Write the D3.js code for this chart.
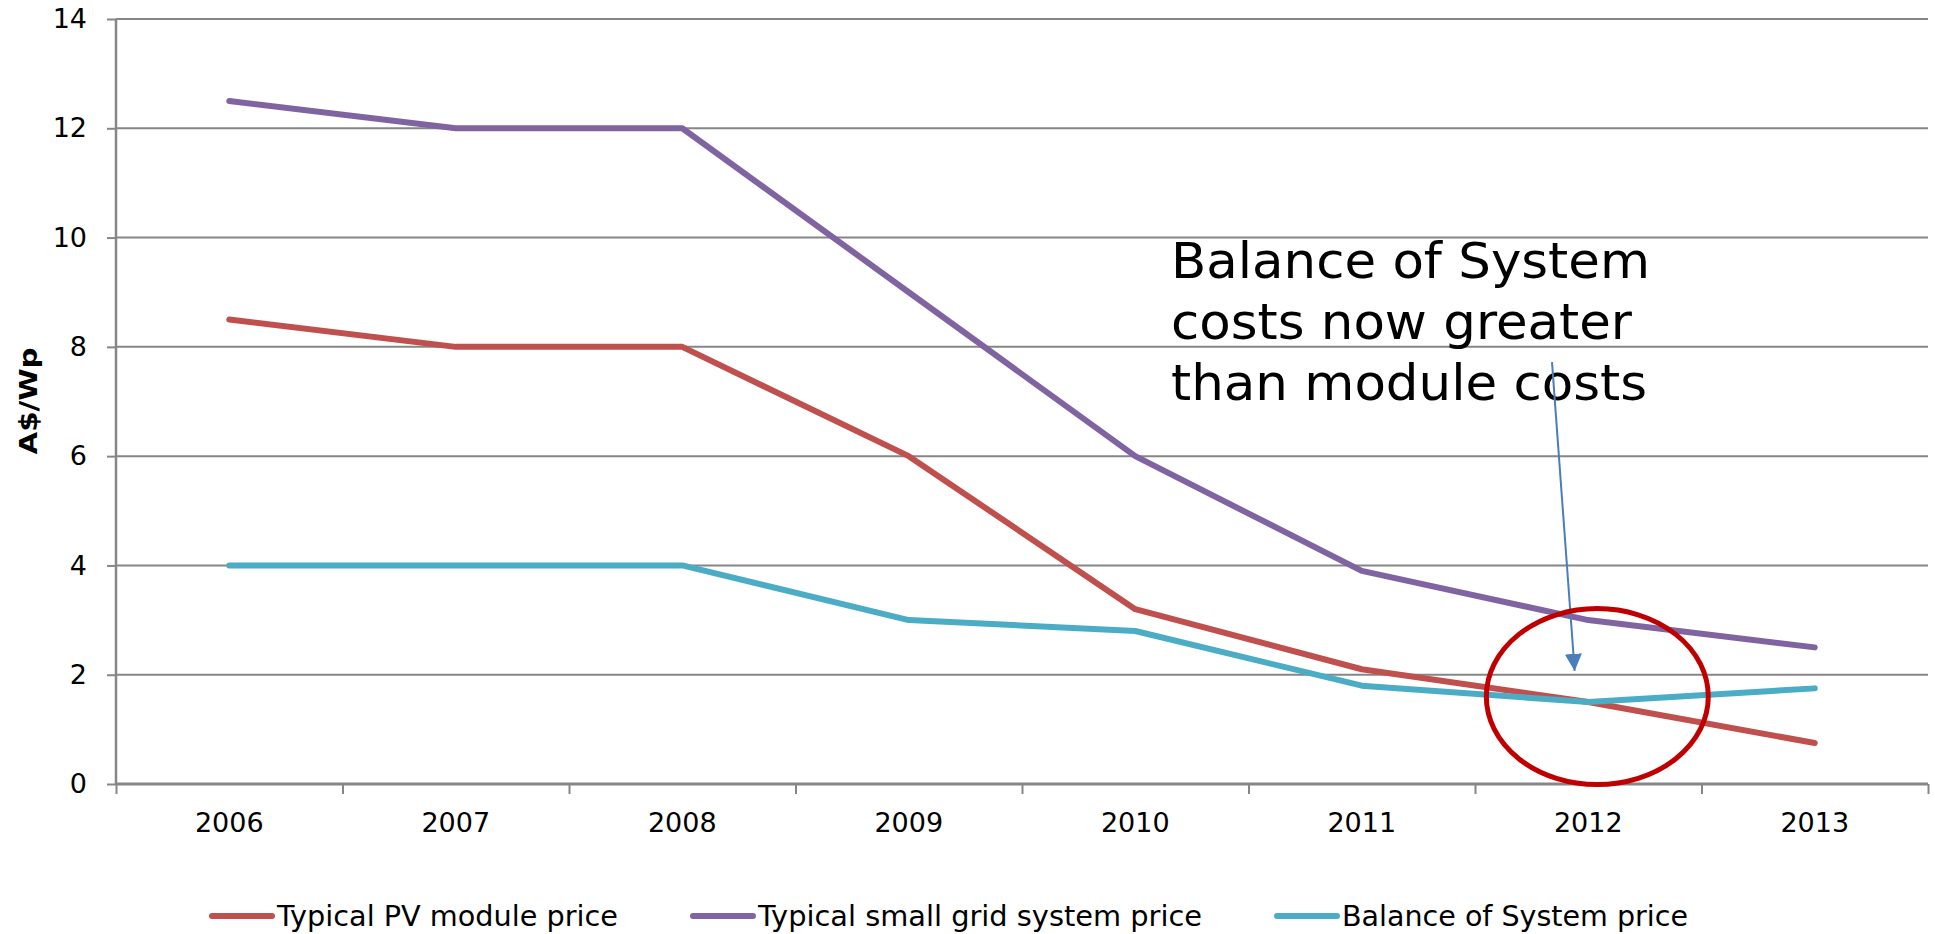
<!DOCTYPE html>
<html>
<head>
<meta charset="utf-8">
<script src="https://cdn.jsdelivr.net/npm/d3@7"></script>
<style>
  html, body { margin: 0; padding: 0; background: #fff; }
  svg { display: block; font-family: "DejaVu Sans", Verdana, sans-serif; }
</style>
</head>
<body>
<svg id="chart" width="1935" height="934"></svg>
<script>
// Australian PV price trends, A$ per peak watt
const years = ["2006", "2007", "2008", "2009", "2010", "2011", "2012", "2013"];
const moduleTitle = "Typical PV module price";
const moduleValues = [8.5, 8, 8, 6, 3.2, 2.1, 1.5, 0.75];
const systemTitle = "Typical small grid system price";
const systemValues = [12.5, 12, 12, 9, 6, 3.9, 3, 2.5];
const bosTitle = "Balance of System price";
const bosValues = [4, 4, 4, 3, 2.8, 1.8, 1.5, 1.75];
const yTicks = [0, 2, 4, 6, 8, 10, 12, 14];
const yTitle = "A$/Wp";
const noteLines = ["Balance of System", "costs now greater", "than module costs"];

const series = [
  { name: moduleTitle, values: moduleValues, color: "#C0504D" },
  { name: systemTitle, values: systemValues, color: "#8064A2" },
  { name: bosTitle, values: bosValues, color: "#4BACC6" }
];

const svg = d3.select("#chart");
const plot = { left: 116, right: 1928, top: 19, bottom: 784 };

const x = d3.scaleBand().domain(years).range([plot.left, plot.right]).paddingInner(0).paddingOuter(0);
const xi = d3.scaleLinear().domain([0, years.length]).range([plot.left, plot.right]);
const y = d3.scaleLinear().domain([0, 14]).range([plot.bottom, plot.top]);
const cx = (i) => x(years[i]) + x.bandwidth() / 2;

const gridColor = "#868686";

// horizontal gridlines with short outer ticks
const yAxis = svg.append("g")
  .attr("transform", `translate(${plot.left},0)`)
  .call(d3.axisLeft(y).tickValues(yTicks).tickSize(9).tickPadding(20).tickFormat(d3.format("d")));
yAxis.select(".domain").remove();
yAxis.selectAll(".tick line").attr("stroke", gridColor).attr("stroke-width", 2);
yAxis.selectAll(".tick text")
  .attr("fill", "#000").attr("font-size", 27)
  .attr("font-family", "DejaVu Sans, Verdana, sans-serif");

svg.append("g")
  .selectAll("line")
  .data(yTicks.filter(d => d > 0))
  .join("line")
  .attr("x1", plot.left).attr("x2", plot.right)
  .attr("y1", d => y(d)).attr("y2", d => y(d))
  .attr("stroke", gridColor).attr("stroke-width", 2);

// vertical axis line
svg.append("line")
  .attr("x1", plot.left).attr("x2", plot.left)
  .attr("y1", plot.top).attr("y2", plot.bottom)
  .attr("stroke", gridColor).attr("stroke-width", 2.5);

// category axis: ticks at band boundaries, labels at band centres
const xAxis = svg.append("g")
  .attr("transform", `translate(0,${plot.bottom})`)
  .call(d3.axisBottom(xi).tickValues(d3.range(years.length + 1)).tickSize(10).tickFormat(""));
xAxis.select(".domain").attr("stroke", gridColor).attr("stroke-width", 3)
  .attr("d", `M${plot.left},0H${plot.right}`);
xAxis.selectAll(".tick line").attr("stroke", gridColor).attr("stroke-width", 2);

svg.append("g")
  .selectAll("text")
  .data(years)
  .join("text")
  .attr("x", d => x(d) + x.bandwidth() / 2)
  .attr("y", 832)
  .attr("text-anchor", "middle")
  .attr("font-size", 27)
  .attr("fill", "#000")
  .text(d => d);

// y title
svg.append("text")
  .attr("transform", "translate(37,401) rotate(-90)")
  .attr("text-anchor", "middle")
  .attr("font-size", 25)
  .attr("font-weight", "bold")
  .attr("textLength", 107)
  .attr("lengthAdjust", "spacingAndGlyphs")
  .attr("fill", "#000")
  .text(yTitle);

// series lines
const line = d3.line().x((d, i) => cx(i)).y(d => y(d));
svg.append("g")
  .selectAll("path")
  .data(series)
  .join("path")
  .attr("d", d => line(d.values))
  .attr("fill", "none")
  .attr("stroke", d => d.color)
  .attr("stroke-width", 6)
  .attr("stroke-linecap", "round")
  .attr("stroke-linejoin", "round");

// callout text
const noteWidths = [479, 461, 476];
svg.append("g")
  .selectAll("text")
  .data(noteLines)
  .join("text")
  .attr("x", 1171)
  .attr("y", (d, i) => 278 + i * 61)
  .attr("font-size", 50)
  .attr("fill", "#000")
  .attr("textLength", (d, i) => noteWidths[i])
  .attr("lengthAdjust", "spacingAndGlyphs")
  .text(d => d);

// callout arrow pointing into the crossover
const defs = svg.append("defs");
defs.append("marker")
  .attr("id", "arrowHead")
  .attr("viewBox", "0 0 10 10")
  .attr("refX", 10).attr("refY", 5)
  .attr("markerWidth", 17).attr("markerHeight", 17)
  .attr("markerUnits", "userSpaceOnUse")
  .attr("orient", "auto")
  .append("path")
  .attr("d", "M0,0L10,5L0,10Z")
  .attr("fill", "#4A7EBB");

const arrowFrom = { idx: 5.84, v: 7.72 };
const arrowTo = { idx: 5.94, v: 2.07 };
svg.append("line")
  .attr("x1", xi(arrowFrom.idx + 0.5)).attr("y1", y(arrowFrom.v))
  .attr("x2", xi(arrowTo.idx + 0.5)).attr("y2", y(arrowTo.v))
  .attr("stroke", "#4A7EBB")
  .attr("stroke-width", 2)
  .attr("marker-end", "url(#arrowHead)");

// highlight ring around 2012
const ring = { idx: 6.04, v: 1.6, rIdx: 0.49, rV: 1.61 };
svg.append("ellipse")
  .attr("cx", xi(ring.idx + 0.5))
  .attr("cy", y(ring.v))
  .attr("rx", xi(ring.rIdx) - xi(0))
  .attr("ry", y(0) - y(ring.rV))
  .attr("fill", "none")
  .attr("stroke", "#C00000")
  .attr("stroke-width", 5);

// legend
const legendItems = [
  { s: series[0], x0: 212, tw: 341 },
  { s: series[1], x0: 693, tw: 444 },
  { s: series[2], x0: 1277, tw: 346 }
];
const lg = svg.append("g")
  .selectAll("g")
  .data(legendItems)
  .join("g")
  .attr("transform", d => `translate(${d.x0},916)`);
lg.append("line")
  .attr("x1", 0).attr("x2", 60)
  .attr("stroke", d => d.s.color)
  .attr("stroke-width", 6)
  .attr("stroke-linecap", "round");
lg.append("text")
  .attr("x", 65)
  .attr("y", 10)
  .attr("font-size", 28)
  .attr("fill", "#000")
  .attr("textLength", d => d.tw)
  .attr("lengthAdjust", "spacingAndGlyphs")
  .text(d => d.s.name);
</script>
</body>
</html>
